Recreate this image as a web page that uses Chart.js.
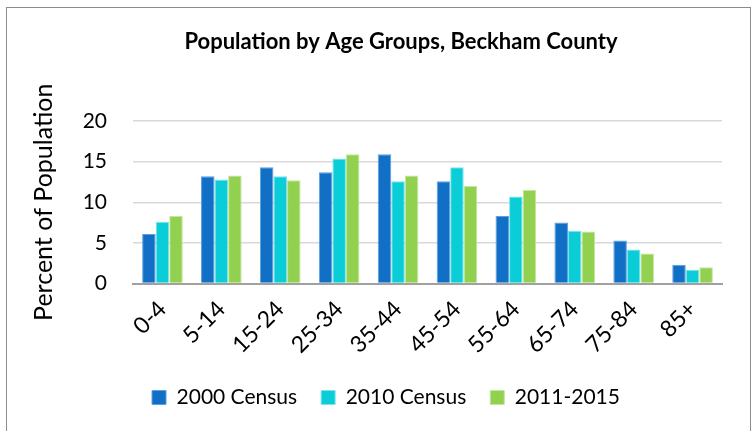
<!DOCTYPE html>
<html>
<head>
<meta charset="utf-8">
<script src="https://cdn.jsdelivr.net/npm/chart.js@4"></script>
<style>
  body { margin: 0; background: #fff; }
  .frame {
    position: absolute;
    left: 6px;
    top: 7px;
    width: 743px;
    height: 440px;
    border: 1px solid #8c8c8c;
  }
  .wrap { position: absolute; left: 0; top: 0; width: 755px; height: 431px; }
</style>
</head>
<body>
<div class="frame"></div>
<div class="wrap"><canvas id="mychart" width="755" height="431"></canvas></div>
<script>
const ageGroups = ["0-4", "5-14", "15-24", "25-34", "35-44", "45-54", "55-64", "65-74", "75-84", "85+"];
const census2000 = [6.1, 13.2, 14.3, 13.7, 15.9, 12.6, 8.3, 7.5, 5.3, 2.3];
const census2010 = [7.6, 12.8, 13.2, 15.4, 12.6, 14.3, 10.7, 6.5, 4.2, 1.7];
const acs20112015 = [8.3, 13.3, 12.7, 15.9, 13.3, 12.0, 11.5, 6.4, 3.7, 2.0];
const seriesNames = ["2000 Census", "2010 Census", "2011-2015"];
const yTicks = [0, 5, 10, 15, 20];
const chartTitle = "Population by Age Groups, Beckham County";

const FONT = "Lato, 'Open Sans', sans-serif";

function make_dataset(label, data, color, edge) {
  return {
    label: label,
    data: data,
    backgroundColor: color,
    borderColor: edge,
    borderWidth: 1,
    categoryPercentage: 0.69,
    barPercentage: 1,
  };
}

// the title sits a bit right of the canvas centre, so draw it by hand
const titlePlugin = {
  id: "titleText",
  afterDraw(c) {
    const ctx = c.ctx;
    ctx.save();
    ctx.font = "bold 22px " + FONT;
    ctx.fillStyle = "#000";
    ctx.textAlign = "center";
    ctx.textBaseline = "middle";
    ctx.fillText(chartTitle, 401, 42);
    ctx.restore();
  },
};

const chart = document.querySelector("#mychart");
const myChart = new Chart(chart, {
  type: "bar",
  data: {
    labels: ageGroups,
    datasets: [
      make_dataset(seriesNames[0], census2000, "#1170C6", "#5d9ee0"),
      make_dataset(seriesNames[1], census2010, "#0BCDD8", "#7fe3ea"),
      make_dataset(seriesNames[2], acs20112015, "#92D050", "#c3e6a0"),
    ],
  },
  plugins: [titlePlugin],
  options: {
    responsive: false,
    animation: false,
    layout: {
      padding: { left: 50, right: 33, top: 121, bottom: 13 },
    },
    scales: {
      x: {
        grid: { display: false },
        border: { display: true, color: "#a0a0a0", width: 2 },
        ticks: {
          color: "#000",
          font: { family: FONT, size: 23 },
          minRotation: 45,
          maxRotation: 45,
          padding: 4,
        },
        afterFit: (scale) => {
          scale.height = 79.5;
        },
      },
      y: {
        min: 0,
        max: 20,
        afterBuildTicks: (scale) => {
          scale.ticks = yTicks.map((v) => ({ value: v }));
        },
        grid: { color: "#d9d9d9", lineWidth: 1.5, drawTicks: false },
        border: { display: false },
        ticks: {
          color: "#000",
          font: { family: FONT, size: 21 },
          padding: 26,
        },
        title: {
          display: true,
          text: "Percent of Population",
          color: "#000",
          font: { family: FONT, size: 25 },
          padding: { top: -21, bottom: 0 },
        },
        afterFit: (scale) => {
          scale.width = 83;
        },
      },
    },
    plugins: {
      title: { display: false },
      legend: {
        position: "bottom",
        labels: {
          color: "#000",
          font: { family: FONT, size: 21 },
          boxWidth: 14,
          boxHeight: 14,
          padding: 24,
        },
      },
      tooltip: { enabled: false },
    },
  },
});
</script>
</body>
</html>
